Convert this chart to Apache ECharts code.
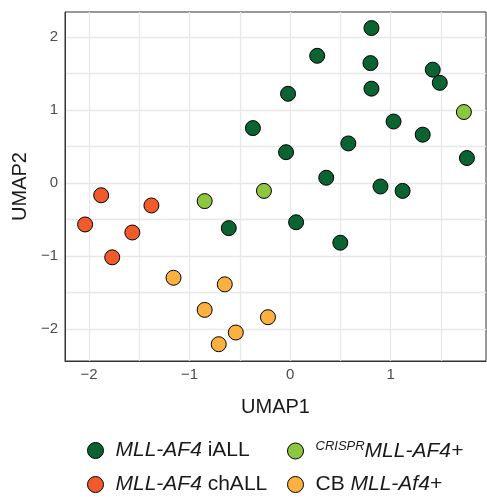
<!DOCTYPE html>
<html>
<head>
<meta charset="utf-8">
<title>UMAP</title>
<script src="https://cdn.jsdelivr.net/npm/echarts@6/dist/echarts.min.js"></script>
<style>
  html, body { margin: 0; padding: 0; background: #fff; }
  #chart { width: 487px; height: 498px; }
</style>
</head>
<body>
<div id="chart"></div>
<script>
// UMAP coordinates per sample group: [UMAP1, UMAP2]
const iALL = [
  [0.81, 2.12], [0.27, 1.74], [0.80, 1.64], [1.42, 1.55], [1.49, 1.37],
  [-0.02, 1.22], [0.81, 1.29], [-0.37, 0.75], [1.03, 0.84], [1.32, 0.66],
  [0.58, 0.54], [-0.04, 0.42], [1.76, 0.34], [0.36, 0.07], [0.90, -0.05],
  [1.12, -0.11], [0.06, -0.54], [0.50, -0.82], [-0.61, -0.62]
];
const chALL = [[-1.88, -0.17], [-1.38, -0.31], [-2.04, -0.57], [-1.57, -0.68], [-1.77, -1.02]];
const crispr = [[1.73, 0.97], [-0.26, -0.11], [-0.85, -0.25]];
const cbAf4 = [[-1.16, -1.30], [-0.65, -1.39], [-0.85, -1.74], [-0.54, -2.05], [-0.71, -2.21], [-0.22, -1.84]];

const xTicks = [-2, -1, 0, 1];
const yTicks = [-2, -1, 0, 1, 2];
const xGrid = [-2, -1.5, -1, -0.5, 0, 0.5, 1, 1.5];
const yGrid = [-2, -1.5, -1, -0.5, 0, 0.5, 1, 1.5, 2];

const groups = [
  { name: 'MLL-AF4 iALL', data: iALL, color: '#0b6332', label: '{i|MLL-AF4}{n| iALL}' },
  { name: 'MLL-AF4 chALL', data: chALL, color: '#f15a2a', label: '{i|MLL-AF4}{n| chALL}' },
  { name: 'CRISPR MLL-AF4+', data: crispr, color: '#8dc63f', label: '{sup|CRISPR}{i|MLL-AF4+}' },
  { name: 'CB MLL-Af4+', data: cbAf4, color: '#fbb040', label: '{n|CB }{i|MLL-Af4+}' }
];

const fmt = v => (v < 0 ? '\u2212' + Math.abs(v) : String(v));
const font = 'Liberation Sans, Arial, Helvetica, sans-serif';

const rich = {
  i: { fontFamily: font, fontSize: 21, fontStyle: 'italic', color: '#1a1a1a', lineHeight: 22 },
  n: { fontFamily: font, fontSize: 21, color: '#1a1a1a', lineHeight: 22 },
  sup: { fontFamily: font, fontSize: 13, fontStyle: 'italic', color: '#1a1a1a', lineHeight: 12, verticalAlign: 'top' }
};

const labelOf = {};
groups.forEach(g => { labelOf[g.name] = g.label; });

// one legend per entry, laid out as a 2 x 2 block
const legendPos = [[82, 435], [82, 469], [282, 435], [282, 469]];
const legends = groups.map((g, k) => ({
  left: legendPos[k][0],
  top: legendPos[k][1],
  data: [g.name],
  itemWidth: 30,
  itemHeight: 16,
  icon: 'circle',
  selectedMode: false,
  itemStyle: { borderColor: '#000', borderWidth: 1 },
  formatter: name => labelOf[name],
  textStyle: { rich: rich }
}));

const gridLine = { color: '#e8e8e8', width: 1.3, type: 'solid' };

const chart = echarts.init(document.getElementById('chart'), null, { renderer: 'canvas' });
chart.setOption({
  animation: false,
  backgroundColor: '#fff',
  grid: {
    left: 65, top: 12, width: 421, height: 349,
    show: true, borderColor: '#333', borderWidth: 1, backgroundColor: 'transparent'
  },
  xAxis: {
    type: 'value', min: -2.24, max: 1.95,
    name: 'UMAP1', nameLocation: 'middle', nameGap: 36,
    nameTextStyle: { fontFamily: font, fontSize: 20, color: '#1a1a1a' },
    axisLine: { show: true, onZero: false, lineStyle: { color: '#333' } },
    axisTick: { show: false },
    axisLabel: { customValues: xTicks, formatter: fmt, fontFamily: font, fontSize: 15, color: '#4d4d4d', margin: 6 },
    splitLine: { show: false }
  },
  yAxis: {
    type: 'value', min: -2.44, max: 2.34,
    name: 'UMAP2', nameLocation: 'middle', nameGap: 34,
    nameTextStyle: { fontFamily: font, fontSize: 20, color: '#1a1a1a' },
    axisLine: { show: true, onZero: false, lineStyle: { color: '#333' } },
    axisTick: { show: false },
    axisLabel: { customValues: yTicks, formatter: fmt, fontFamily: font, fontSize: 15, color: '#4d4d4d', margin: 7 },
    splitLine: { show: false }
  },
  legend: legends,
  series: [
    {
      // background grid lines at whole and half units
      type: 'scatter',
      name: 'gridlines',
      data: [],
      silent: true,
      z: 0,
      markLine: {
        silent: true,
        z: 0,
        symbol: ['none', 'none'],
        label: { show: false },
        emphasis: { disabled: true },
        lineStyle: gridLine,
        data: xGrid.map(v => ({ xAxis: v })).concat(yGrid.map(v => ({ yAxis: v })))
      }
    }
  ].concat(groups.map(g => ({
    type: 'scatter',
    name: g.name,
    data: g.data,
    symbol: 'circle',
    symbolSize: 15,
    z: 3,
    itemStyle: { color: g.color, borderColor: '#000', borderWidth: 1, opacity: 1 },
    emphasis: { disabled: true }
  })))
});
</script>
</body>
</html>
